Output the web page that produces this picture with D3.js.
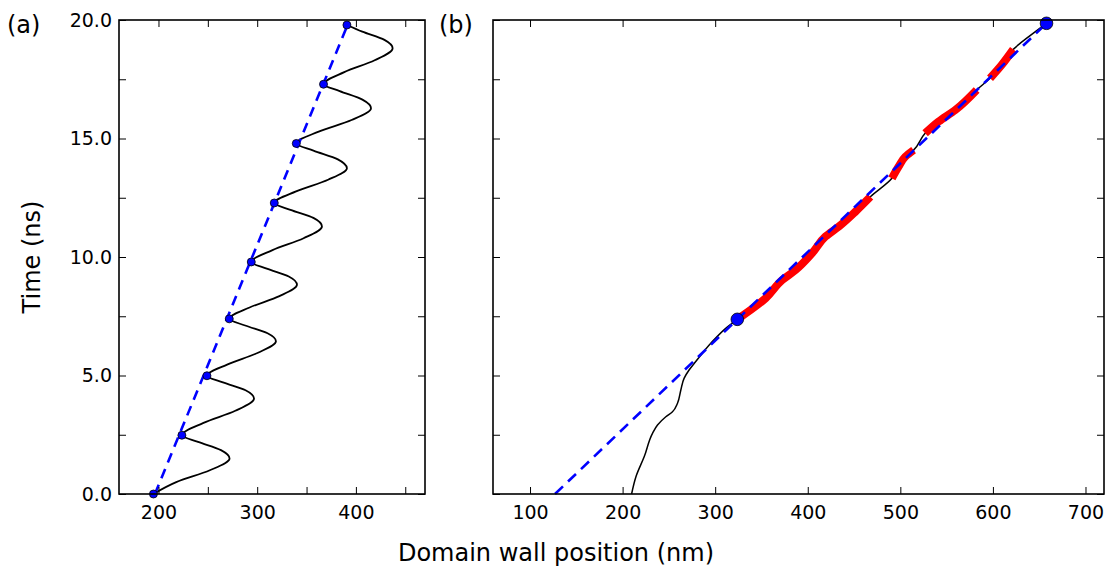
<!DOCTYPE html>
<html>
<head>
<meta charset="utf-8">
<script src="https://cdnjs.cloudflare.com/ajax/libs/d3/7.8.5/d3.min.js"></script>
<style>
body { margin: 0; background: #fff; }
text { font-family: "DejaVu Sans", sans-serif; fill: #000; }
</style>
</head>
<body>
<svg id="fig" width="1107" height="569"></svg>
<script>
//Data: [position (nm), time (ns)]

//(a) wall trajectory, oscillating
var trajA = [[194.9,0.00],[218.0,0.50],[252.0,1.00],[272.0,1.50],[263.3,1.85],[240.1,2.20],
	[223.7,2.48],[245.6,3.00],[277.8,3.51],[296.8,4.03],[288.2,4.38],[265.3,4.71],
	[249.1,4.99],[270.1,5.47],[300.8,5.96],[319.0,6.44],[310.5,6.78],[287.8,7.11],
	[271.7,7.39],[292.3,7.87],[322.5,8.35],[340.3,8.83],[332.0,9.18],[309.7,9.51],
	[294.0,9.79],[315.5,10.29],[347.0,10.79],[365.6,11.29],[356.9,11.65],[333.7,11.99],
	[317.3,12.28],[339.4,12.77],[371.8,13.26],[390.9,13.75],[381.7,14.12],[357.0,14.49],
	[339.6,14.79],[362.3,15.29],[395.6,15.78],[415.3,16.28],[406.6,16.64],[383.6,17.00],
	[367.2,17.29],[388.2,17.80],[419.0,18.30],[437.2,18.81],[428.9,19.16],[406.5,19.51],
	[390.9,19.79]];
//(a) turning points
var dotsA = [[194.9,0.00],[223.7,2.48],[249.1,4.99],[271.7,7.39],[294.0,9.79],
	[317.3,12.28],[339.6,14.79],[367.2,17.29],[390.9,19.79]];
//(a) mean velocity line
var fitA = [[196.4,0.00],[391.5,19.79]];

//(b) wall trajectory
var trajB = [[209.7,0.00],[214.4,0.73],[223.4,1.58],[232.3,2.56],[237.7,2.91],[246.7,3.26],
	[253.9,3.47],[259.3,3.83],[262.9,4.39],[266.4,4.88],[271.8,5.23],[279.0,5.59],
	[286.2,5.94],[296.9,6.43],[311.4,6.99],[323.9,7.37],[354.5,8.26],[372.4,9.03],
	[386.8,9.45],[404.7,10.16],[419.1,10.86],[433.4,11.28],[451.4,11.91],[467.6,12.54],
	[490.9,13.32],[498.1,13.81],[505.3,14.23],[514.3,14.51],[526.8,15.22],[541.2,15.71],
	[559.2,16.20],[582.4,17.05],[596.9,17.54],[609.4,18.10],[622.0,18.76],[640.5,19.35],
	[657.9,19.86]];
//(b) highlighted stretches
var redB = [
	[[323.9,7.37],[354.5,8.26],[372.4,9.03],[386.8,9.45],[404.7,10.16],[419.1,10.86],[433.4,11.28],[451.4,11.91],[467.6,12.54]],
	[[490.9,13.32],[498.1,13.81],[505.3,14.23],[514.3,14.51]],
	[[526.8,15.22],[541.2,15.71],[559.2,16.20],[582.4,17.05]],
	[[596.9,17.54],[609.4,18.10],[622.0,18.76]]
];
var dotsB = [[323.9,7.37],[657.9,19.86]];
var fitB = [[127.0,0.00],[657.9,19.86]];

//Ticks
var xTicksA = [200,250,300,350,400,450],
	xLabelsA = [200,300,400],
	xTicksB = [100,200,300,400,500,600,700],
	yTicks = [0,2.5,5,7.5,10,12.5,15,17.5,20],
	yLabels = [0,5,10,15,20];

///////////////////////////////////////////////////////////////////////////
//////////////////////////////// Scales ///////////////////////////////////
///////////////////////////////////////////////////////////////////////////

var svg = d3.select("#fig");
var top0 = 20, bot0 = 494;

var y = d3.scaleLinear().domain([0,20]).range([bot0, top0]);
var xa = d3.scaleLinear().domain([160,470]).range([119,425]);
var xb = d3.scaleLinear().domain([60,720]).range([493,1104]);

function drawFrame(x, xTicks, xLabels, yLab) {
	var g = svg.append("g");
	var x0 = x.range()[0], x1 = x.range()[1];

	g.append("g").attr("transform", "translate(0," + bot0 + ")")
		.call(d3.axisBottom(x).tickValues(xTicks).tickSize(-7).tickPadding(12)
			.tickFormat(function(d) { return xLabels.indexOf(d) >= 0 ? d : ""; }));
	g.append("g").attr("transform", "translate(0," + top0 + ")")
		.call(d3.axisTop(x).tickValues(xTicks).tickSize(-7).tickFormat(""));
	g.append("g").attr("transform", "translate(" + x0 + ",0)")
		.call(d3.axisLeft(y).tickValues(yTicks).tickSize(-7).tickPadding(7)
			.tickFormat(function(d) { return yLab && yLabels.indexOf(d) >= 0 ? d3.format(".1f")(d) : ""; }));
	g.append("g").attr("transform", "translate(" + x1 + ",0)")
		.call(d3.axisRight(y).tickValues(yTicks).tickSize(-7).tickFormat(""));

	g.selectAll(".domain").remove();
	g.selectAll(".tick line").attr("stroke", "#000").attr("stroke-width", 1);
	g.selectAll(".tick text").style("font-size", "19px").attr("fill", "#000")
		.style("font-family", "'DejaVu Sans', sans-serif");

	g.append("rect")
		.attr("x", x0).attr("y", top0)
		.attr("width", x1 - x0).attr("height", bot0 - top0)
		.attr("fill", "none").attr("stroke", "#000").attr("stroke-width", 1.6);
}

///////////////////////////////////////////////////////////////////////////
/////////////////////////////// Panel (a) /////////////////////////////////
///////////////////////////////////////////////////////////////////////////

var lineA = d3.line().x(function(d) { return xa(d[0]); }).y(function(d) { return y(d[1]); })
	.curve(d3.curveMonotoneY);

svg.append("path").datum(trajA)
	.attr("d", lineA)
	.attr("fill", "none").attr("stroke", "#000").attr("stroke-width", 1.8);

svg.append("path").datum(fitA)
	.attr("d", d3.line().x(function(d) { return xa(d[0]); }).y(function(d) { return y(d[1]); }))
	.attr("fill", "none").attr("stroke", "#0000ff").attr("stroke-width", 2.6)
	.attr("stroke-dasharray", "10,7");

svg.selectAll("circle.dotA")
	.data(dotsA).enter().append("circle")
	.attr("class", "dotA")
	.attr("cx", function(d) { return xa(d[0]); })
	.attr("cy", function(d) { return y(d[1]); })
	.attr("r", 4)
	.attr("fill", "#0000ff").attr("stroke", "#000").attr("stroke-width", 0.8);

drawFrame(xa, xTicksA, xLabelsA, true);

///////////////////////////////////////////////////////////////////////////
/////////////////////////////// Panel (b) /////////////////////////////////
///////////////////////////////////////////////////////////////////////////

var lineB = d3.line().x(function(d) { return xb(d[0]); }).y(function(d) { return y(d[1]); })
	.curve(d3.curveMonotoneY);

svg.append("path").datum(trajB)
	.attr("d", lineB)
	.attr("fill", "none").attr("stroke", "#000").attr("stroke-width", 1.5);

svg.selectAll("path.red")
	.data(redB).enter().append("path")
	.attr("class", "red")
	.attr("d", lineB)
	.attr("fill", "none").attr("stroke", "#ff0000").attr("stroke-width", 8)
	.attr("stroke-linecap", "butt");

svg.append("path").datum(fitB)
	.attr("d", d3.line().x(function(d) { return xb(d[0]); }).y(function(d) { return y(d[1]); }))
	.attr("fill", "none").attr("stroke", "#0000ff").attr("stroke-width", 2.6)
	.attr("stroke-dasharray", "11,7");

svg.selectAll("circle.dotB")
	.data(dotsB).enter().append("circle")
	.attr("class", "dotB")
	.attr("cx", function(d) { return xb(d[0]); })
	.attr("cy", function(d) { return y(d[1]); })
	.attr("r", 6.3)
	.attr("fill", "#0000ff").attr("stroke", "#000").attr("stroke-width", 0.8);

drawFrame(xb, xTicksB, xTicksB, false);

///////////////////////////////////////////////////////////////////////////
//////////////////////////////// Labels ///////////////////////////////////
///////////////////////////////////////////////////////////////////////////

svg.append("text").attr("x", 7).attr("y", 33).style("font-size", "24px").text("(a)");
svg.append("text").attr("x", 439).attr("y", 33).style("font-size", "24px").text("(b)");

svg.append("text")
	.attr("x", 556).attr("y", 561)
	.attr("text-anchor", "middle")
	.style("font-size", "24px")
	.text("Domain wall position (nm)");

svg.append("text")
	.attr("transform", "translate(40," + ((top0 + bot0) / 2) + ") rotate(-90)")
	.attr("text-anchor", "middle")
	.style("font-size", "24px")
	.text("Time (ns)");
</script>
</body>
</html>
